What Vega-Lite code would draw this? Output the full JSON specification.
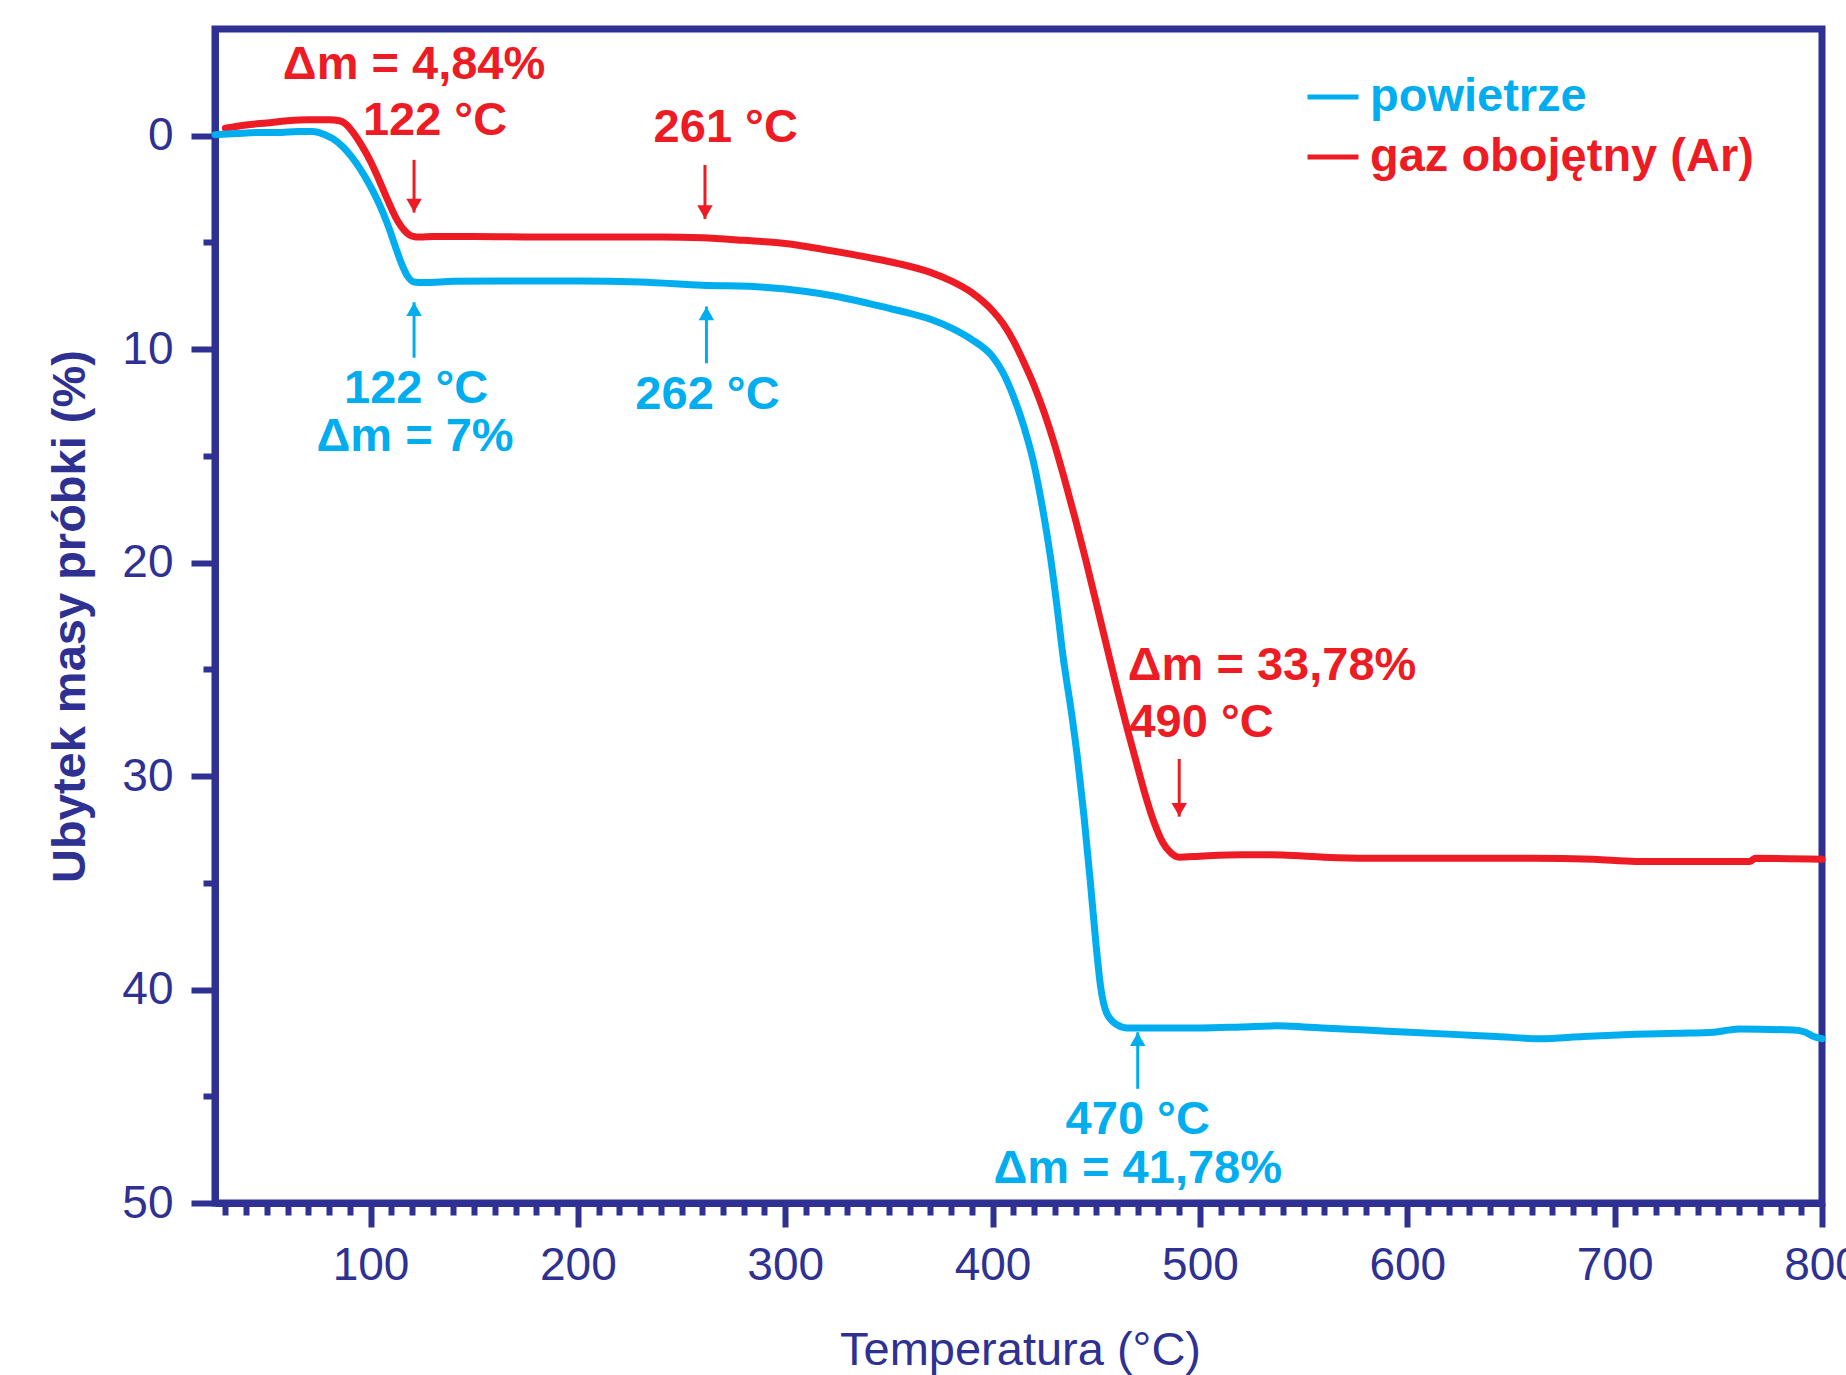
{
  "$schema": "https://vega.github.io/schema/vega-lite/v6.json",
  "width": 1607,
  "height": 1174,
  "autosize": {"type": "none"},
  "padding": {"left": 215, "top": 29, "right": 24, "bottom": 172},
  "background": "white",
  "config": {
    "view": {"stroke": "#2E3192", "strokeWidth": 7},
    "font": "Liberation Sans"
  },
  "datasets": {
    "curves": [
      {"T": 30, "loss": -0.35, "series": "gaz obojętny (Ar)"},
      {"T": 40, "loss": -0.5, "series": "gaz obojętny (Ar)"},
      {"T": 50, "loss": -0.6, "series": "gaz obojętny (Ar)"},
      {"T": 60, "loss": -0.7, "series": "gaz obojętny (Ar)"},
      {"T": 70, "loss": -0.75, "series": "gaz obojętny (Ar)"},
      {"T": 80, "loss": -0.75, "series": "gaz obojętny (Ar)"},
      {"T": 85, "loss": -0.7, "series": "gaz obojętny (Ar)"},
      {"T": 88, "loss": -0.55, "series": "gaz obojętny (Ar)"},
      {"T": 92, "loss": -0.1, "series": "gaz obojętny (Ar)"},
      {"T": 96, "loss": 0.5, "series": "gaz obojętny (Ar)"},
      {"T": 100, "loss": 1.2, "series": "gaz obojętny (Ar)"},
      {"T": 104, "loss": 2.05, "series": "gaz obojętny (Ar)"},
      {"T": 108, "loss": 2.95, "series": "gaz obojętny (Ar)"},
      {"T": 112, "loss": 3.8, "series": "gaz obojętny (Ar)"},
      {"T": 116, "loss": 4.4, "series": "gaz obojętny (Ar)"},
      {"T": 120, "loss": 4.7, "series": "gaz obojętny (Ar)"},
      {"T": 124, "loss": 4.75, "series": "gaz obojętny (Ar)"},
      {"T": 130, "loss": 4.72, "series": "gaz obojętny (Ar)"},
      {"T": 150, "loss": 4.72, "series": "gaz obojętny (Ar)"},
      {"T": 180, "loss": 4.75, "series": "gaz obojętny (Ar)"},
      {"T": 210, "loss": 4.75, "series": "gaz obojętny (Ar)"},
      {"T": 240, "loss": 4.75, "series": "gaz obojętny (Ar)"},
      {"T": 260, "loss": 4.78, "series": "gaz obojętny (Ar)"},
      {"T": 280, "loss": 4.9, "series": "gaz obojętny (Ar)"},
      {"T": 300, "loss": 5.05, "series": "gaz obojętny (Ar)"},
      {"T": 320, "loss": 5.35, "series": "gaz obojętny (Ar)"},
      {"T": 340, "loss": 5.7, "series": "gaz obojętny (Ar)"},
      {"T": 355, "loss": 6.0, "series": "gaz obojętny (Ar)"},
      {"T": 370, "loss": 6.4, "series": "gaz obojętny (Ar)"},
      {"T": 380, "loss": 6.8, "series": "gaz obojętny (Ar)"},
      {"T": 390, "loss": 7.35, "series": "gaz obojętny (Ar)"},
      {"T": 400, "loss": 8.2, "series": "gaz obojętny (Ar)"},
      {"T": 405, "loss": 8.8, "series": "gaz obojętny (Ar)"},
      {"T": 410, "loss": 9.6, "series": "gaz obojętny (Ar)"},
      {"T": 415, "loss": 10.6, "series": "gaz obojętny (Ar)"},
      {"T": 420, "loss": 11.7, "series": "gaz obojętny (Ar)"},
      {"T": 425, "loss": 13.0, "series": "gaz obojętny (Ar)"},
      {"T": 430, "loss": 14.5, "series": "gaz obojętny (Ar)"},
      {"T": 435, "loss": 16.2, "series": "gaz obojętny (Ar)"},
      {"T": 440, "loss": 18.0, "series": "gaz obojętny (Ar)"},
      {"T": 445, "loss": 19.9, "series": "gaz obojętny (Ar)"},
      {"T": 450, "loss": 21.9, "series": "gaz obojętny (Ar)"},
      {"T": 455, "loss": 23.9, "series": "gaz obojętny (Ar)"},
      {"T": 460, "loss": 25.9, "series": "gaz obojętny (Ar)"},
      {"T": 465, "loss": 27.8, "series": "gaz obojętny (Ar)"},
      {"T": 470, "loss": 29.6, "series": "gaz obojętny (Ar)"},
      {"T": 474, "loss": 31.0, "series": "gaz obojętny (Ar)"},
      {"T": 478, "loss": 32.2, "series": "gaz obojętny (Ar)"},
      {"T": 482, "loss": 33.1, "series": "gaz obojętny (Ar)"},
      {"T": 486, "loss": 33.6, "series": "gaz obojętny (Ar)"},
      {"T": 490, "loss": 33.8, "series": "gaz obojętny (Ar)"},
      {"T": 500, "loss": 33.75, "series": "gaz obojętny (Ar)"},
      {"T": 520, "loss": 33.68, "series": "gaz obojętny (Ar)"},
      {"T": 540, "loss": 33.7, "series": "gaz obojętny (Ar)"},
      {"T": 560, "loss": 33.8, "series": "gaz obojętny (Ar)"},
      {"T": 580, "loss": 33.85, "series": "gaz obojętny (Ar)"},
      {"T": 600, "loss": 33.85, "series": "gaz obojętny (Ar)"},
      {"T": 630, "loss": 33.85, "series": "gaz obojętny (Ar)"},
      {"T": 660, "loss": 33.85, "series": "gaz obojętny (Ar)"},
      {"T": 690, "loss": 33.9, "series": "gaz obojętny (Ar)"},
      {"T": 710, "loss": 34.0, "series": "gaz obojętny (Ar)"},
      {"T": 740, "loss": 34.0, "series": "gaz obojętny (Ar)"},
      {"T": 765, "loss": 34.0, "series": "gaz obojętny (Ar)"},
      {"T": 768, "loss": 33.85, "series": "gaz obojętny (Ar)"},
      {"T": 800, "loss": 33.9, "series": "gaz obojętny (Ar)"},
      {"T": 25, "loss": -0.05, "series": "powietrze"},
      {"T": 35, "loss": -0.1, "series": "powietrze"},
      {"T": 45, "loss": -0.15, "series": "powietrze"},
      {"T": 55, "loss": -0.15, "series": "powietrze"},
      {"T": 65, "loss": -0.2, "series": "powietrze"},
      {"T": 72, "loss": -0.2, "series": "powietrze"},
      {"T": 78, "loss": -0.05, "series": "powietrze"},
      {"T": 82, "loss": 0.15, "series": "powietrze"},
      {"T": 87, "loss": 0.55, "series": "powietrze"},
      {"T": 91, "loss": 1.0, "series": "powietrze"},
      {"T": 95, "loss": 1.55, "series": "powietrze"},
      {"T": 99, "loss": 2.2, "series": "powietrze"},
      {"T": 103, "loss": 2.95, "series": "powietrze"},
      {"T": 106, "loss": 3.6, "series": "powietrze"},
      {"T": 109, "loss": 4.35, "series": "powietrze"},
      {"T": 112, "loss": 5.2, "series": "powietrze"},
      {"T": 115, "loss": 6.0, "series": "powietrze"},
      {"T": 118, "loss": 6.6, "series": "powietrze"},
      {"T": 121, "loss": 6.85, "series": "powietrze"},
      {"T": 126, "loss": 6.88, "series": "powietrze"},
      {"T": 140, "loss": 6.82, "series": "powietrze"},
      {"T": 170, "loss": 6.8, "series": "powietrze"},
      {"T": 200, "loss": 6.8, "series": "powietrze"},
      {"T": 230, "loss": 6.85, "series": "powietrze"},
      {"T": 260, "loss": 7.0, "series": "powietrze"},
      {"T": 290, "loss": 7.1, "series": "powietrze"},
      {"T": 310, "loss": 7.3, "series": "powietrze"},
      {"T": 323, "loss": 7.5, "series": "powietrze"},
      {"T": 340, "loss": 7.85, "series": "powietrze"},
      {"T": 355, "loss": 8.2, "series": "powietrze"},
      {"T": 370, "loss": 8.6, "series": "powietrze"},
      {"T": 380, "loss": 9.0, "series": "powietrze"},
      {"T": 390, "loss": 9.55, "series": "powietrze"},
      {"T": 400, "loss": 10.35, "series": "powietrze"},
      {"T": 405, "loss": 11.1, "series": "powietrze"},
      {"T": 410, "loss": 12.2, "series": "powietrze"},
      {"T": 415, "loss": 13.6, "series": "powietrze"},
      {"T": 420, "loss": 15.4, "series": "powietrze"},
      {"T": 424, "loss": 17.4, "series": "powietrze"},
      {"T": 428, "loss": 19.8, "series": "powietrze"},
      {"T": 431, "loss": 22.0, "series": "powietrze"},
      {"T": 434, "loss": 24.4, "series": "powietrze"},
      {"T": 438, "loss": 27.0, "series": "powietrze"},
      {"T": 441, "loss": 29.2, "series": "powietrze"},
      {"T": 444, "loss": 31.8, "series": "powietrze"},
      {"T": 447, "loss": 34.8, "series": "powietrze"},
      {"T": 450, "loss": 38.0, "series": "powietrze"},
      {"T": 452, "loss": 39.8, "series": "powietrze"},
      {"T": 455, "loss": 41.1, "series": "powietrze"},
      {"T": 460, "loss": 41.65, "series": "powietrze"},
      {"T": 465, "loss": 41.8, "series": "powietrze"},
      {"T": 476, "loss": 41.8, "series": "powietrze"},
      {"T": 500, "loss": 41.8, "series": "powietrze"},
      {"T": 520, "loss": 41.75, "series": "powietrze"},
      {"T": 537, "loss": 41.7, "series": "powietrze"},
      {"T": 550, "loss": 41.75, "series": "powietrze"},
      {"T": 559, "loss": 41.8, "series": "powietrze"},
      {"T": 580, "loss": 41.9, "series": "powietrze"},
      {"T": 601, "loss": 42.0, "series": "powietrze"},
      {"T": 622, "loss": 42.1, "series": "powietrze"},
      {"T": 643, "loss": 42.2, "series": "powietrze"},
      {"T": 664, "loss": 42.3, "series": "powietrze"},
      {"T": 685, "loss": 42.2, "series": "powietrze"},
      {"T": 710, "loss": 42.1, "series": "powietrze"},
      {"T": 730, "loss": 42.05, "series": "powietrze"},
      {"T": 748, "loss": 42.0, "series": "powietrze"},
      {"T": 755, "loss": 41.9, "series": "powietrze"},
      {"T": 760, "loss": 41.85, "series": "powietrze"},
      {"T": 786, "loss": 41.9, "series": "powietrze"},
      {"T": 792, "loss": 42.0, "series": "powietrze"},
      {"T": 796, "loss": 42.2, "series": "powietrze"},
      {"T": 800, "loss": 42.3, "series": "powietrze"}
    ],
    "arrows": [
      {"T": 121, "tail": 1.13, "tip": 3.6, "series": "gaz obojętny (Ar)"},
      {"T": 261.3, "tail": 1.37, "tip": 3.9, "series": "gaz obojętny (Ar)"},
      {"T": 490, "tail": 29.2, "tip": 31.9, "series": "gaz obojętny (Ar)"},
      {"T": 121, "tail": 10.4, "tip": 7.8, "series": "powietrze"},
      {"T": 262, "tail": 10.66, "tip": 8.0, "series": "powietrze"},
      {"T": 470, "tail": 44.65, "tip": 42.0, "series": "powietrze"}
    ],
    "notes": [
      {"T": 121, "loss": -3.32, "label": "Δm = 4,84%", "series": "gaz obojętny (Ar)"},
      {"T": 131.1, "loss": -0.67, "label": "122 °C", "series": "gaz obojętny (Ar)"},
      {"T": 271.3, "loss": -0.37, "label": "261 °C", "series": "gaz obojętny (Ar)"},
      {"T": 534.8, "loss": 24.83, "label": "Δm = 33,78%", "series": "gaz obojętny (Ar)"},
      {"T": 500.8, "loss": 27.53, "label": "490 °C", "series": "gaz obojętny (Ar)"},
      {"T": 122, "loss": 11.88, "label": "122 °C", "series": "powietrze"},
      {"T": 121.5, "loss": 14.13, "label": "Δm = 7%", "series": "powietrze"},
      {"T": 262.5, "loss": 12.13, "label": "262 °C", "series": "powietrze"},
      {"T": 470, "loss": 46.13, "label": "470 °C", "series": "powietrze"},
      {"T": 470, "loss": 48.43, "label": "Δm = 41,78%", "series": "powietrze"}
    ]
  },
  "resolve": {"axis": {"x": "independent", "y": "independent"}},
  "layer": [
    {
      "data": {"name": "curves"},
      "mark": {"type": "line", "strokeWidth": 7, "interpolate": "monotone", "strokeJoin": "round", "strokeCap": "round"},
      "encoding": {
        "x": {
          "field": "T", "type": "quantitative",
          "scale": {"domain": [25, 800], "nice": false, "zero": false},
          "axis": {
            "orient": "bottom", "values": [100, 200, 300, 400, 500, 600, 700, 800],
            "title": "Temperatura (°C)", "grid": false,
            "domainColor": "#2E3192", "domainWidth": 7,
            "tickColor": "#2E3192", "tickWidth": 6, "tickSize": 24,
            "labelFont": "Liberation Sans", "labelFontSize": 46, "labelColor": "#2E3192",
            "labelPadding": 16, "labelFlush": false, "labelOverlap": false,
            "titleFont": "Liberation Sans", "titleFontSize": 47, "titleFontWeight": "normal",
            "titleColor": "#2E3192", "titleX": 805, "titleY": 161, "titleBaseline": "alphabetic", "titleAlign": "center"
          }
        },
        "y": {
          "field": "loss", "type": "quantitative",
          "scale": {"domain": [-5, 50], "reverse": true, "nice": false, "zero": false},
          "axis": {
            "orient": "left", "values": [0, 10, 20, 30, 40, 50],
            "title": "Ubytek masy próbki (%)", "grid": false,
            "domainColor": "#2E3192", "domainWidth": 7,
            "tickColor": "#2E3192", "tickWidth": 6, "tickSize": 24,
            "labelFont": "Liberation Sans", "labelFontSize": 46, "labelColor": "#2E3192",
            "labelPadding": 18, "labelFlush": false, "labelOverlap": false,
            "titleFont": "Liberation Sans", "titleFontSize": 47, "titleFontWeight": "bold",
            "titleColor": "#2E3192", "titleAngle": 270, "titleX": -131, "titleY": 587,
            "titleBaseline": "alphabetic", "titleAlign": "center"
          }
        },
        "color": {
          "field": "series", "type": "nominal",
          "scale": {"domain": ["powietrze", "gaz obojętny (Ar)"], "range": ["#00AEEF", "#ED1C24"]},
          "legend": {
            "orient": "none", "legendX": 1090, "legendY": 40, "title": null, "padding": 0,
            "symbolType": "stroke", "symbolStrokeWidth": 5, "symbolSize": 2600,
            "labelFont": "Liberation Sans", "labelFontSize": 47, "labelFontWeight": "bold",
            "labelOffset": 9, "rowPadding": 9, "labelLimit": 600,
            "encode": {"labels": {"update": {"fill": {"signal": "datum.value === 'powietrze' ? '#00AEEF' : '#ED1C24'"}}}}
          }
        }
      }
    },
    {
      "data": {"name": "arrows"},
      "mark": {"type": "rule", "strokeWidth": 3},
      "encoding": {
        "x": {"field": "T", "type": "quantitative", "axis": null},
        "y": {"field": "tail", "type": "quantitative", "axis": null},
        "y2": {"field": "tip"},
        "color": {"field": "series", "type": "nominal", "legend": null}
      }
    },
    {
      "data": {"name": "arrows"},
      "transform": [{"filter": "datum.series === 'gaz obojętny (Ar)'"}],
      "mark": {"type": "point", "shape": "triangle-down", "filled": true, "size": 240, "opacity": 1, "yOffset": -7},
      "encoding": {
        "x": {"field": "T", "type": "quantitative", "axis": null},
        "y": {"field": "tip", "type": "quantitative", "axis": null},
        "color": {"field": "series", "type": "nominal", "legend": null}
      }
    },
    {
      "data": {"name": "arrows"},
      "transform": [{"filter": "datum.series === 'powietrze'"}],
      "mark": {"type": "point", "shape": "triangle-up", "filled": true, "size": 240, "opacity": 1, "yOffset": 7},
      "encoding": {
        "x": {"field": "T", "type": "quantitative", "axis": null},
        "y": {"field": "tip", "type": "quantitative", "axis": null},
        "color": {"field": "series", "type": "nominal", "legend": null}
      }
    },
    {
      "data": {"name": "notes"},
      "mark": {"type": "text", "font": "Liberation Sans", "fontSize": 47, "fontWeight": "bold", "align": "center", "baseline": "middle"},
      "encoding": {
        "x": {
          "field": "T", "type": "quantitative",
          "axis": {
            "orient": "bottom", "values": [30, 40, 50, 60, 70, 80, 90, 110, 120, 130, 140, 150, 160, 170, 180, 190, 210, 220, 230, 240, 250, 260, 270, 280, 290, 310, 320, 330, 340, 350, 360, 370, 380, 390, 410, 420, 430, 440, 450, 460, 470, 480, 490, 510, 520, 530, 540, 550, 560, 570, 580, 590, 610, 620, 630, 640, 650, 660, 670, 680, 690, 710, 720, 730, 740, 750, 760, 770, 780, 790],
            "labels": false, "title": null, "domain": false, "grid": false,
            "tickColor": "#2E3192", "tickWidth": 6, "tickSize": 12
          }
        },
        "y": {
          "field": "loss", "type": "quantitative",
          "axis": {
            "orient": "left", "values": [5, 15, 25, 35, 45],
            "labels": false, "title": null, "domain": false, "grid": false,
            "tickColor": "#2E3192", "tickWidth": 6, "tickSize": 12
          }
        },
        "text": {"field": "label"},
        "color": {"field": "series", "type": "nominal", "legend": null}
      }
    }
  ]
}
